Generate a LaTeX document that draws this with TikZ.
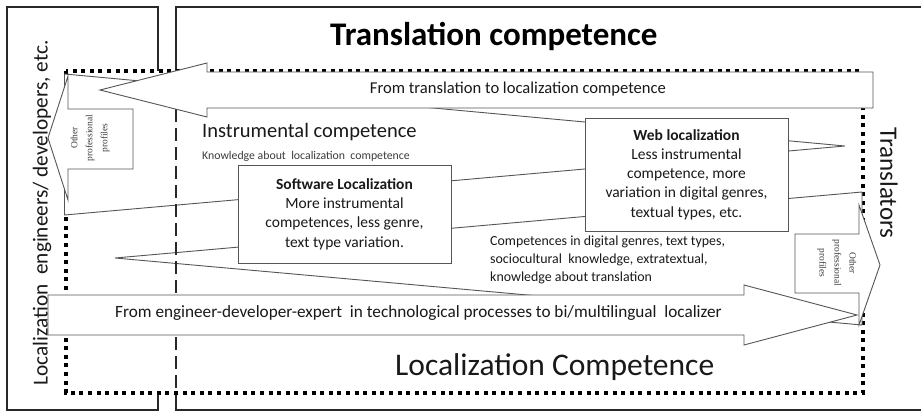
\documentclass[tikz,border=0pt]{standalone}
\usepackage{fontspec}
\setmainfont{Carlito}
\newfontfamily\profserif{Liberation Serif}
\definecolor{linegray}{RGB}{85,85,85}
\definecolor{boxline}{RGB}{40,40,40}
\definecolor{txt}{RGB}{25,25,25}
\definecolor{softtxt}{RGB}{60,60,60}
\begin{document}
\begin{tikzpicture}[x=1pt,y=-1pt,
  frame/.style={draw=boxline,line width=2pt},
  shp/.style={draw=linegray,line width=0.9pt,fill=white,line join=miter},
  textbox/.style={draw=linegray,line width=1pt,fill=white,align=center,inner sep=0pt,text=txt},
  lbl/.style={inner sep=0pt,text=txt},
  prof/.style={inner sep=0pt,align=center,text=softtxt,font=\profserif\fontsize{9.5}{15}\selectfont}
]
\useasboundingbox (0,0) rectangle (921,420);
\fill[white] (0,0) rectangle (921,420);
% outer frames
\draw[frame] (7,7) rectangle (158,410);
\draw[frame] (175.7,7) rectangle (940,410);
% dotted localization area
\filldraw[fill=white,draw=black,line width=3.5pt,dash pattern=on 4pt off 4.6pt] (66,71) rectangle (863,393);
% wedges
\draw[shp] (64.5,74) -- (845,146) -- (64.5,215) -- cycle;
\draw[shp] (862,192) -- (115,258) -- (862,325) -- cycle;
% dashed divider
\draw[boxline,line width=1.8pt,dash pattern=on 13pt off 6pt] (175.7,71) -- (175.7,393);
% top arrow
\draw[shp] (100,90) -- (207,63) -- (207,72) -- (873,72) -- (873,108) -- (207,108) -- (207,117) -- cycle;
% bottom arrow
\draw[shp] (48,295) -- (744,295) -- (744,285) -- (857,315) -- (744,345) -- (744,335) -- (48,335) -- cycle;
% other profiles arrows
\draw[shp] (48,138) -- (68,76) -- (68,109) -- (133,109) -- (133,169) -- (68,169) -- (68,200) -- cycle;
\draw[shp] (795,234) -- (859,234) -- (859,205) -- (880,265) -- (859,325) -- (859,293) -- (795,293) -- cycle;
% boxes
\node[textbox,minimum width=213pt,minimum height=98pt,font=\fontsize{15.5}{19.3}\selectfont] (soft) at (344.5,214)
  {\textbf{Software Localization}\\More instrumental\\competences, less genre,\\text type variation.};
\node[textbox,minimum width=203pt,minimum height=113pt,font=\fontsize{15.5}{19.2}\selectfont] (web) at (686.5,174.5)
  {\textbf{Web localization}\\Less instrumental\\competence, more\\variation in digital genres,\\textual types, etc.};
% texts
\node[lbl,anchor=base west,font=\bfseries\fontsize{33}{36}\selectfont,text=black] (title) at (330,46) {Translation competence};
\node[lbl,anchor=base west,font=\fontsize{31.5}{34}\selectfont] (loccomp) at (395,375) {Localization Competence};
\node[lbl,anchor=base west,font=\fontsize{20.5}{24}\selectfont] (instr) at (202,137) {Instrumental competence};
\node[lbl,anchor=base west,font=\fontsize{11.8}{14}\selectfont,text=softtxt] (know) at (202,159) {Knowledge about\ \ localization\ \ competence};
\node[lbl,anchor=base west,font=\fontsize{13.9}{16}\selectfont] (c1) at (490,245) {Competences in digital genres, text types,};
\node[lbl,anchor=base west,font=\fontsize{13.9}{16}\selectfont] (c2) at (490,263) {sociocultural\ \ knowledge, extratextual,};
\node[lbl,anchor=base west,font=\fontsize{13.9}{16}\selectfont] (c3) at (490,281) {knowledge about translation};
\node[lbl,font=\fontsize{16.6}{19}\selectfont] (toptxt) at (518,89) {From translation to localization competence};
\node[lbl,anchor=base west,font=\fontsize{17.2}{20}\selectfont] (bottxt) at (115,317) {From engineer-developer-expert\ \ in technological processes to bi/multilingual\ \ localizer};
\node[lbl,rotate=90,font=\fontsize{21.3}{24}\selectfont] (eng) at (42,213) {Localization\ \ engineers/ developers, etc.};
\node[lbl,rotate=-90,font=\fontsize{25}{28}\selectfont] (transl) at (889,183) {Translators};
\node[prof,rotate=90] (profL) at (90,138) {Other\\professional\\profiles};
\node[prof,rotate=-90] (profR) at (837,263) {Other\\professional\\profiles};
\end{tikzpicture}
\end{document}
